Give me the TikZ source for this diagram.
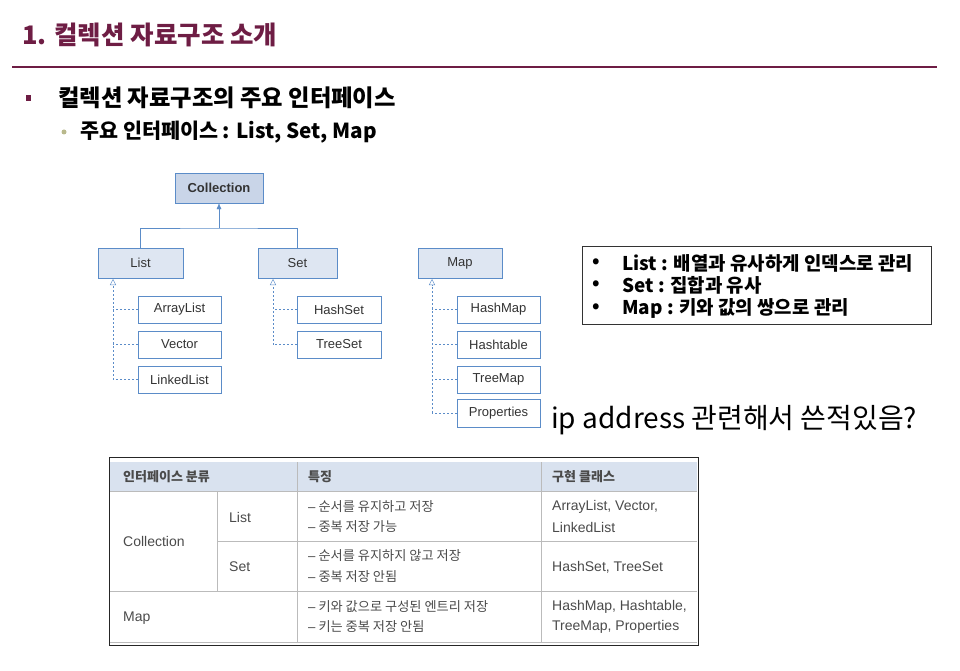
\documentclass[tikz,border=0pt]{standalone}
\usepackage{fontspec}
\setmainfont{Noto Sans CJK KR}
\newfontfamily\helv{Liberation Sans}
\usetikzlibrary{arrows.meta,positioning}
\definecolor{titlered}{HTML}{6E1D44}
\definecolor{boxblue}{HTML}{5B8CC8}
\definecolor{headfill}{HTML}{C9D5E8}
\definecolor{boxfill}{HTML}{DEE6F2}
\definecolor{tabtext}{HTML}{4A4A4A}
\definecolor{tabline}{HTML}{BBBBBB}
\definecolor{dotolive}{HTML}{B9B98C}
\newcommand{\dashmark}{{\helv –}}
\tikzset{class box/.style={rectangle,draw=boxblue,fill=white,minimum width=84pt,minimum height=27pt,inner sep=0pt,font=\helv\fontsize{13}{15}\selectfont,text=black!80},
         iface box/.style={class box,fill=boxfill,minimum height=30pt},
         top box/.style={iface box,fill=headfill,minimum width=88pt,font=\helv\bfseries\fontsize{13}{15}\selectfont},
         impl edge/.style={boxblue,dashed,dash pattern=on 2pt off 2pt},
         cell/.style={anchor=west,inner sep=0pt,text=tabtext,font=\fontsize{13.2}{16}\selectfont},
         latin cell/.style={cell,font=\helv\fontsize{14}{16}\selectfont},
         note text/.style={anchor=west,inner sep=0pt,font=\bfseries\fontsize{18.9}{22}\selectfont},
}

\begin{document}
\begin{tikzpicture}[x=1pt,y=-1pt]
\useasboundingbox (0,0) rectangle (960,671);
% \draw[help lines,step=50] (0,0) grid (960,671);

% heading
\node[anchor=west,inner sep=0pt,text=titlered,font=\bfseries\fontsize{25.5}{30}\selectfont] (title) at (22,35) {1. 컬렉션 자료구조 소개};
\draw[titlered,line width=1.5pt] (12,67) -- (937,67);
\fill[titlered] (25.5,95.5) rectangle (31,101);
\node[anchor=west,inner sep=0pt,font=\bfseries\fontsize{23.3}{27}\selectfont] (sub) at (58,98) {컬렉션 자료구조의 주요 인터페이스};
\fill[dotolive] (64,132) circle (2.5);
\node[anchor=west,inner sep=0pt,font=\bfseries\fontsize{20.7}{24}\selectfont] (subsub) at (80,132) {주요 인터페이스 : List, Set, Map};

% hierarchy
\node[top box] (col) at (219,188) {Collection};
\node[iface box,minimum width=85pt] (list) at (140.5,263) {List};
\node[iface box,minimum width=79pt] (set) at (297.5,263) {Set};
\node[iface box] (map) at (460,263) {Map};

\node[class box,minimum width=83pt] (arraylist) at (179.5,309.5) {ArrayList};
\node[class box,minimum width=83pt] (vector) at (179.5,344.5) {Vector};
\node[class box,minimum width=83pt] (linkedlist) at (179.5,379.5) {LinkedList};
\node[class box] (hashset) at (339,309.5) {HashSet};
\node[class box] (treeset) at (339,344.5) {TreeSet};
\node[class box,minimum width=83pt] (hashmap) at (498.5,309.5) {HashMap};
\node[class box,minimum width=83pt] (hashtable) at (498.5,344.5) {Hashtable};
\node[class box,minimum width=83pt] (treemap) at (498.5,379.5) {TreeMap};
\node[class box,minimum width=83pt,minimum height=28pt] (props) at (498.5,413) {Properties};

\coordinate (join) at (219,228);
\draw[boxblue] (list.north) |- (join) -| (set.north);
\draw[boxblue,-{Latex[length=6pt,width=5pt]}] (join) -- (col.south);

\coordinate (list in) at (113,279);
\coordinate (set in) at (273,279);
\coordinate (map in) at (432,279);
\draw[impl edge,-{Triangle[open,length=6pt,width=6pt]}] (linkedlist.west -| list in) -- (list in);
\draw[impl edge,-{Triangle[open,length=6pt,width=6pt]}] (treeset.west -| set in) -- (set in);
\draw[impl edge,-{Triangle[open,length=6pt,width=6pt]}] (props.west -| map in) -- (map in);
\foreach \c/\p in {arraylist/list,vector/list,linkedlist/list,hashset/set,treeset/set,hashmap/map,hashtable/map,treemap/map,props/map}
    \draw[impl edge] (\c.west) -- (\c.west -| \p\space in);

% note box
\node[draw=black!80,line width=1pt,minimum width=349pt,minimum height=78pt,inner sep=0pt] (note) at (756.5,285) {};
\foreach \y/\t [count=\i] in {263/{List : 배열과 유사하게 인덱스로 관리},285/{Set : 집합과 유사},308/{Map : 키와 값의 쌍으로 관리}} {
    \node[note text] (dot\i) at (592,\y) {•};
    \node[note text] (line\i) at (622,\y) {\t};
}

\node[anchor=west,inner sep=0pt,font=\fontsize{28}{32}\selectfont] (ask) at (551,420) {ip address 관련해서 쓴적있음?};

% table
\fill[headfill!70] (110,462) rectangle (697,491);
\draw[tabline] (110,491) -- (697,491);
\draw[tabline] (217,541) -- (697,541);
\draw[tabline] (110,591) -- (697,591);
\draw[tabline] (110,642) -- (697,642);
\draw[tabline] (297,462) -- (297,642);
\draw[tabline] (541,462) -- (541,642);
\draw[tabline] (217,491) -- (217,591);
\draw[black!85,line width=1pt] (109,457) rectangle (698,645);

\node[cell,font=\bfseries\fontsize{13}{16}\selectfont] (h1) at (123,477) {인터페이스 분류};
\node[cell,font=\bfseries\fontsize{13}{16}\selectfont] (h2) at (308,477) {특징};
\node[cell,font=\bfseries\fontsize{13}{16}\selectfont] (h3) at (552,477) {구현 클래스};

\node[latin cell] (r1) at (123,541) {Collection};
\node[latin cell] (r2) at (229,517) {List};
\node[latin cell] (r3) at (229,567) {Set};
\node[latin cell] (r4) at (123,618) {Map};

\node[cell] (f1) at (308,507) {\dashmark{} 순서를 유지하고 저장};
\node[cell] (f2) at (308,527) {\dashmark{} 중복 저장 가능};
\node[cell] (f3) at (308,556) {\dashmark{} 순서를 유지하지 않고 저장};
\node[cell] (f4) at (308,577) {\dashmark{} 중복 저장 안됨};
\node[cell] (f5) at (308,607) {\dashmark{} 키와 값으로 구성된 엔트리 저장};
\node[cell] (f6) at (308,627) {\dashmark{} 키는 중복 저장 안됨};

\node[latin cell] (c1) at (552,507) {ArrayList, Vector,};
\node[latin cell] (c2) at (552,527) {LinkedList};
\node[latin cell] (c3) at (552,567) {HashSet, TreeSet};
\node[latin cell] (c4) at (552,607) {HashMap, Hashtable,};
\node[latin cell] (c5) at (552,627) {TreeMap, Properties};
\end{tikzpicture}
\end{document}
